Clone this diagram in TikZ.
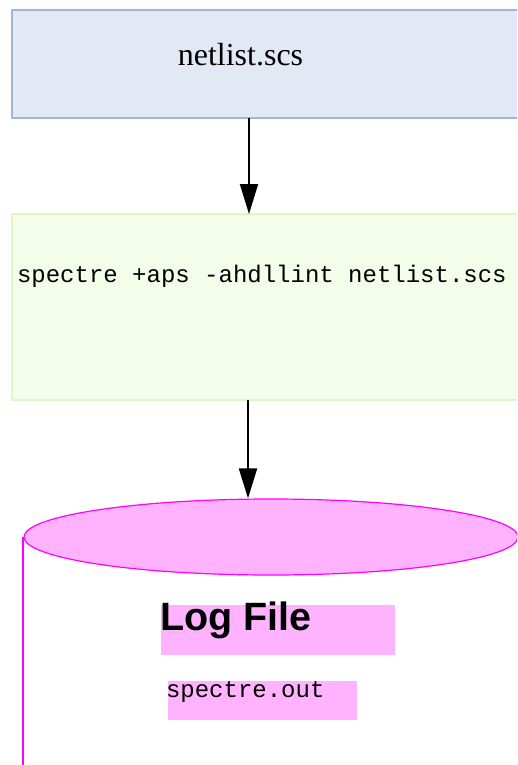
\documentclass[tikz,border=0pt]{standalone}
\usepackage{fontspec}
\setmainfont{Liberation Serif}
\setsansfont{Liberation Sans}
\setmonofont{Liberation Mono}
\usetikzlibrary{positioning,arrows.meta,shapes.geometric}
\definecolor{netfill}{HTML}{E2E8F4}
\definecolor{netline}{HTML}{9FB6DD}
\definecolor{cmdfill}{HTML}{F4FDE9}
\definecolor{cmdline}{HTML}{DEF8C2}
\definecolor{logfill}{HTML}{FFB3FF}
\definecolor{logline}{HTML}{FF00FF}
\tikzset{
	filebox/.style={rectangle, anchor=north west, outer sep=0pt, inner sep=0pt, minimum width=520pt, line width=1.2pt},
	flowarrow/.style={-{Triangle[length=30pt,width=18pt]}, line width=2pt},
	logtag/.style={rectangle, fill=logfill, anchor=north west, inner sep=0pt, outer sep=0pt},
	plaintext/.style={anchor=base west, inner sep=0pt, outer sep=0pt},
}

\begin{document}
\begin{tikzpicture}[x=1pt,y=1pt]
					\pgfmathsetmacro{\ArrowX}{237}
					\pgfmathsetmacro{\LogRX}{247}
					\pgfmathsetmacro{\LogRY}{38}
					\useasboundingbox (0,0) rectangle (517,-765);
					\clip (0,0) rectangle (517,-765);
					% NETLIST
					\node[filebox, fill=netfill, draw=netline, minimum height=108pt] (netbox) at (12,-10) {};
					\node[anchor=base, inner sep=0pt, font=\fontsize{32}{38}\selectfont] (nettext) at (240.5,-66) {netlist.scs};
					% COMMAND
					\node[filebox, fill=cmdfill, draw=cmdline, minimum height=186pt, below=96pt of netbox.south west, anchor=north west] (cmdbox) {};
					\node[plaintext, font=\ttfamily\fontsize{24}{28}\selectfont] (cmdtext) at (17,-282) {spectre +aps -ahdllint netlist.scs};
					\draw[flowarrow] ([xshift=\ArrowX pt]netbox.south west) -- ([xshift=\ArrowX pt]cmdbox.north west);
					% LOG FILE
					\node[ellipse, draw=logline, fill=logfill, line width=1.2pt, inner sep=0pt, minimum width=2*\LogRX pt, minimum height=2*\LogRY pt] (logtop) at (271,-537) {};
					\draw[logline, line width=2pt] (logtop.west) -- ++(0,-240);
					\draw[flowarrow] ([xshift=\ArrowX pt-1pt]cmdbox.south west) coordinate (login) -- (login |- logtop.north);
					\node[logtag, minimum width=234pt, minimum height=50pt] (logtitlebg) at (161,-605) {};
					\node[plaintext, font=\sffamily\bfseries\fontsize{39.5}{46}\selectfont] (logtitle) at (160,-630) {Log File};
					\node[logtag, minimum width=189pt, minimum height=39pt] (logoutbg) at (168,-681) {};
					\node[plaintext, font=\ttfamily\fontsize{24}{28}\selectfont] (logout) at (166,-697) {spectre.out};
				\end{tikzpicture}
\end{document}
